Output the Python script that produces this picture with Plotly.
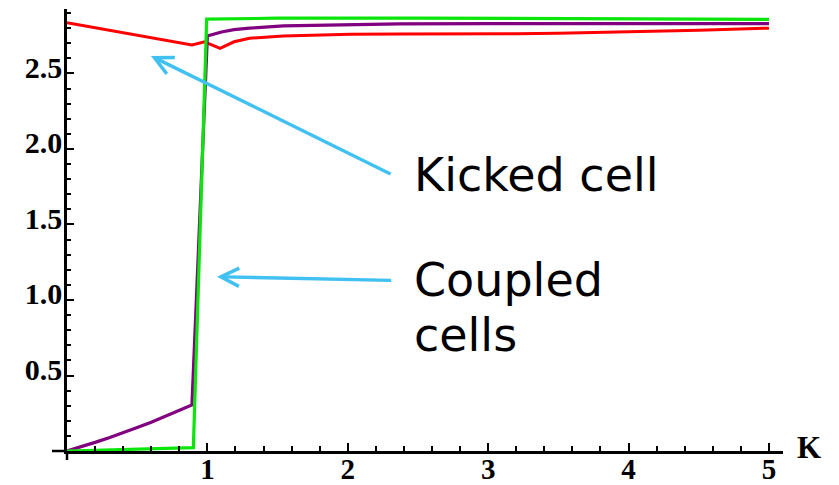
import plotly.graph_objects as go

# ---------------- data ----------------
kicked_x = [0, 0.89, 0.98, 1.09, 1.19, 1.30, 1.54, 2.02, 2.37, 2.8, 3.2, 3.5, 4.0, 4.5, 5.0]
kicked_y = [2.836, 2.689, 2.71, 2.667, 2.71, 2.733, 2.748, 2.76, 2.762, 2.76, 2.763, 2.766, 2.775, 2.787, 2.80]

coupled1_x = [0, 0.1, 0.2, 0.3, 0.4, 0.5, 0.6, 0.7, 0.8, 0.89, 1.0, 1.1, 1.19, 1.3, 1.54, 2.0, 2.37, 3.0, 4.0, 5.0]
coupled1_y = [0, 0.027, 0.057, 0.088, 0.12, 0.155, 0.19, 0.228, 0.267, 0.305,
              2.748, 2.775, 2.79, 2.80, 2.815, 2.824, 2.828, 2.83, 2.83, 2.83]

coupled2_x = [0, 0.5, 0.9, 0.995, 1.5, 2.5, 3.5, 4.5, 5.0]
coupled2_y = [0, 0.01, 0.022, 2.86, 2.866, 2.867, 2.865, 2.862, 2.858]

x_tick_step = 1
x_minor_step = 0.2
y_tick_step = 0.5
y_minor_step = 0.1
hidden_labels_x = {"0": ""}
hidden_labels_y = {"0.0": ""}

x_range = [0, 5.1]
y_range = [0, 2.927]

# ---------------- figure ----------------
fig = go.Figure()
fig.add_trace(go.Scatter(x=kicked_x, y=kicked_y, mode="lines",
                         line=dict(color="#ff0000", width=3), name="Kicked cell"))
fig.add_trace(go.Scatter(x=coupled1_x, y=coupled1_y, mode="lines",
                         line=dict(color="#800080", width=3.2), name="Coupled 1"))
fig.add_trace(go.Scatter(x=coupled2_x, y=coupled2_y, mode="lines",
                         line=dict(color="#0ae60a", width=3.2), name="Coupled 2"))

W, H = 839, 485
ML, MR, MT, MB = 67, 56, 9, 34
plot_w = W - ML - MR
plot_h = H - MT - MB

fig.update_layout(
    width=W, height=H,
    margin=dict(l=ML, r=MR, t=MT, b=MB),
    paper_bgcolor="white", plot_bgcolor="white",
    showlegend=False,
    xaxis=dict(range=x_range, showgrid=False, zeroline=False,
               showline=True, linecolor="black", linewidth=2.5,
               tickmode="linear", tick0=0, dtick=x_tick_step, labelalias=hidden_labels_x,
               ticks="inside", ticklen=8, tickwidth=2, tickcolor="black",
               minor=dict(ticks="inside", dtick=x_minor_step, tick0=0, ticklen=5, tickwidth=2,
                          tickcolor="black"),
               tickfont=dict(family="Liberation Serif", size=29, color="black", weight="bold"),
               ticklabelstandoff=-10, automargin=False),
    yaxis=dict(range=y_range, showgrid=False, zeroline=False,
               showline=True, linecolor="black", linewidth=2.5,
               tickmode="linear", tick0=0, dtick=y_tick_step, tickformat=".1f",
               labelalias=hidden_labels_y,
               ticks="inside", ticklen=7, tickwidth=2, tickcolor="black",
               minor=dict(ticks="inside", dtick=y_minor_step, tick0=0, ticklen=4.5, tickwidth=2,
                          tickcolor="black"),
               tickfont=dict(family="Liberation Serif", size=30, color="black", weight="bold"),
               ticklabelstandoff=-4, ticklabelshift=-6, automargin=False),
)

# axis line stubs beyond the origin (as in the reference)
fig.add_shape(type="line", xref="paper", yref="paper", x0=-15 / plot_w, x1=0, y0=0, y1=0,
              line=dict(color="black", width=2.5))
fig.add_shape(type="line", xref="paper", yref="paper", x0=0, x1=0, y0=-9 / plot_h, y1=0,
              line=dict(color="black", width=2.5))

arrow_color = "#41c0f2"
text_font = dict(family="DejaVu Sans", size=46, color="black")

annotations = [
    dict(text="K", x=1, xref="paper", y=0, yref="y", xanchor="left", yanchor="middle",
         xshift=12, yshift=4, showarrow=False,
         font=dict(family="Liberation Serif", size=31, color="black", weight="bold")),
    dict(text="", x=0.598, y=2.616, xref="x", yref="y", ax=2.315, ay=1.83, axref="x", ayref="y",
         showarrow=True, arrowhead=5, arrowsize=1.05, arrowwidth=3.4, arrowcolor=arrow_color),
    dict(text="", x=1.068, y=1.154, xref="x", yref="y", ax=2.32, ay=1.13, axref="x", ayref="y",
         showarrow=True, arrowhead=5, arrowsize=1.05, arrowwidth=3.4, arrowcolor=arrow_color),
    dict(text="Kicked cell", x=2.46, y=1.825, xref="x", yref="y", xanchor="left", yanchor="middle",
         showarrow=False, font=text_font),
    dict(text="Coupled", x=2.46, y=1.13, xref="x", yref="y", xanchor="left", yanchor="middle",
         showarrow=False, font=text_font),
    dict(text="cells", x=2.46, y=0.765, xref="x", yref="y", xanchor="left", yanchor="middle",
         showarrow=False, font=text_font),
]
fig.update_layout(annotations=annotations)

fig.write_html("out.html")
